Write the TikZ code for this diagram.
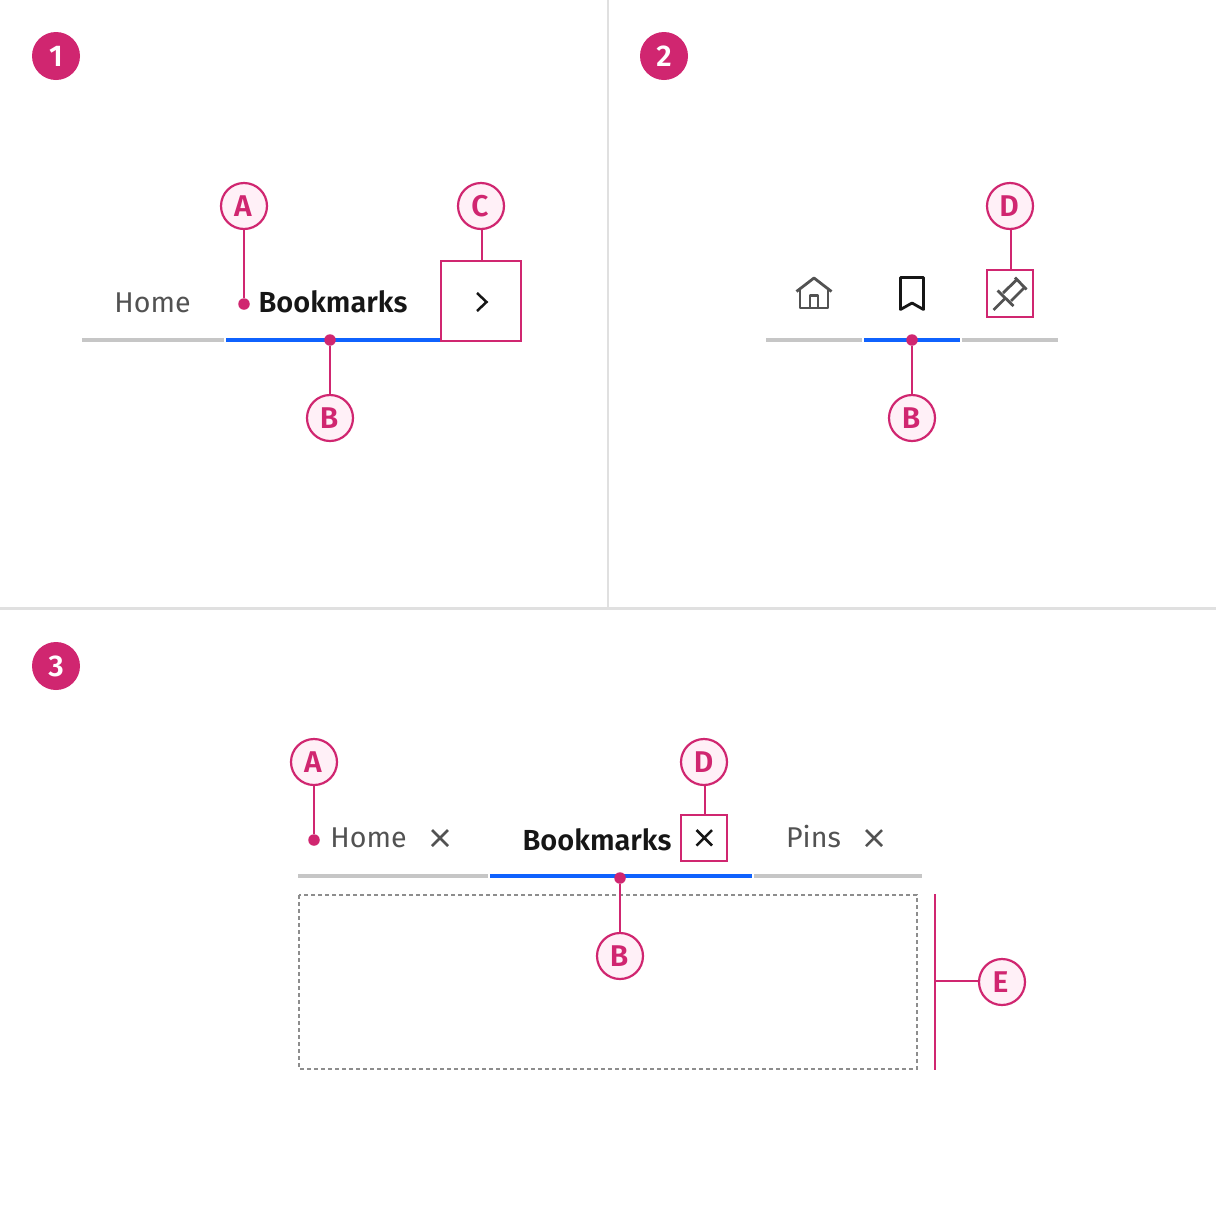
\documentclass[tikz,border=0pt]{standalone}
\usepackage{fontspec}
\setmainfont{Fira Sans}
\newfontfamily\semib{Fira Sans SemiBold}
\newcommand{\ltr}[2][2pt]{\kern-#1 #2}
\newcommand{\dgt}[1]{\raisebox{-0.8pt}{#1}}
\definecolor{mag}{HTML}{D02670}
\definecolor{pale}{HTML}{FFF0F7}
\definecolor{tabgray}{HTML}{C6C6C6}
\definecolor{tabblue}{HTML}{0F62FE}
\definecolor{rulegray}{HTML}{E0E0E0}
\definecolor{txtgray}{HTML}{525252}
\definecolor{txtdark}{HTML}{161616}
\definecolor{dashgray}{HTML}{8D8D8D}
\tikzset{
  x=1pt,y=-1pt,
  numbadge/.style={circle,fill=mag,text=white,minimum size=48pt,inner sep=0pt,font=\fontsize{30}{30}\selectfont\semib},
  letterbadge/.style={circle,draw=mag,line width=2.2pt,fill=pale,text=mag,minimum size=46pt,inner sep=0pt,outer sep=0pt,font=\fontsize{30}{30}\selectfont\semib},
  pinpoint/.style={circle,fill=mag,minimum size=11.5pt,inner sep=0pt},
  callbox/.style={draw=mag,line width=2.2pt,inner sep=0pt,outer sep=0pt},
  conn/.style={draw=mag,line width=2.2pt},
  tabbar/.style={line width=4pt},
  tablabel/.style={anchor=base,inner sep=0pt,text=txtgray,font=\fontsize{28.6}{28.6}\selectfont},
  tabactive/.style={anchor=base,inner sep=0pt,text=txtdark,font=\fontsize{29}{29}\selectfont\semib},
  icon/.style={line width=2.8pt,draw=txtgray,line join=round},
  closex/.style={line width=2.5pt,draw=txtgray},
}
\begin{document}
\begin{tikzpicture}
\useasboundingbox (0,0) rectangle (1216,1216);
\fill[white] (0,0) rectangle (1216,1216);
% dividers
\draw[rulegray,line width=2pt] (608,0) -- (608,608);
\draw[rulegray,line width=3pt] (0,608.5) -- (1216,608.5);
% badges
\node[numbadge] (n1) at (56,56) {\dgt{1}};
\node[numbadge] (n2) at (664,56) {\dgt{2}};
\node[numbadge] (n3) at (56,666) {\dgt{3}};

% ---------- panel 1
\draw[tabbar,tabgray] (82,340) -- (224,340);
\draw[tabbar,tabblue] (226,340) -- (441,340);
\node[tablabel] (h1) at (152.5,312) {Home};
\node[tabactive] (b1) at (333,312) {Bookmarks};
\node[callbox,minimum width=80pt,minimum height=80pt] (c1) at (481,301) {};
\draw[txtdark,line width=2.5pt] (477,293) -- (486.5,302) -- (477,311);
\node[letterbadge] (a1l) at (244,206) {\ltr{A}};
\node[pinpoint] (a1d) at (244,304) {};
\draw[conn] (a1l) -- (a1d);
\node[letterbadge] (c1l) at (481,206) {\ltr{C}};
\draw[conn] ([xshift=.7pt]c1l.south) -- ([xshift=.7pt]c1.north);
\node[letterbadge] (b1l) at (330,418) {\ltr{B}};
\node[pinpoint] (b1d) at (330,340) {};
\draw[conn] (b1l) -- (b1d);

% ---------- panel 2
\draw[tabbar,tabgray] (766,340) -- (862,340);
\draw[tabbar,tabblue] (864,340) -- (960,340);
\draw[tabbar,tabgray] (962,340) -- (1058,340);
% home icon
\draw[icon] (796.5,291.5) -- (814,278) -- (831.5,291.5);
\draw[icon] (800,288.5) -- (800,308) -- (828,308) -- (828,288.5);
\draw[icon] (810,308) -- (810,295.5) -- (818,295.5) -- (818,308);
% bookmark icon
\draw[line width=2.8pt,draw=txtdark,line join=round] (900.5,277.5) -- (923.5,277.5) -- (923.5,309.5) -- (912,303) -- (900.5,309.5) -- cycle;
% pin icon
\node[callbox,minimum width=46pt,minimum height=47pt] (d2) at (1010,293.5) {};
\draw[icon,line join=miter] (993.5,310) -- (1005.5,298);
\draw[icon,line join=miter] (997.5,290.5) -- (1013.5,306);
\draw[icon,line join=miter] (1003,293) -- (1017,279.5);
\draw[icon,line join=miter] (1011,301) -- (1024.5,287.5);
\draw[icon,line join=miter] (1015,277.5) -- (1026.5,289.5);
\node[letterbadge] (d2l) at (1010,206) {\ltr{D}};
\draw[conn] ([xshift=.7pt]d2l.south) -- ([xshift=.7pt]d2.north);
\node[letterbadge] (b2l) at (912,418) {\ltr{B}};
\node[pinpoint] (b2d) at (912,340) {};
\draw[conn] (b2l) -- (b2d);

% ---------- panel 3
\draw[tabbar,tabgray] (298,876) -- (488,876);
\draw[tabbar,tabblue] (490,876) -- (752,876);
\draw[tabbar,tabgray] (754,876) -- (922,876);
\node[tablabel] (h3) at (368.5,847.7) {Home};
\node[tabactive] (b3) at (597,850) {Bookmarks};
\node[tablabel] (p3) at (813.5,847.7) {Pins};
\draw[closex] (432,830) -- (448,846) (448,830) -- (432,846);
\draw[closex,draw=txtdark] (696.5,830) -- (712,845.5) (712,830) -- (696.5,845.5);
\draw[closex] (866,830) -- (882,846) (882,830) -- (866,846);
\node[callbox,minimum width=46pt,minimum height=46pt] (d3) at (704,838) {};
\node[letterbadge] (d3l) at (704,762) {\ltr[1pt]{D}};
\draw[conn] ([xshift=.7pt]d3l.south) -- ([xshift=.7pt]d3.north);
\node[letterbadge] (a3l) at (314,762) {\ltr{A}};
\node[pinpoint] (a3d) at (314,840) {};
\draw[conn] (a3l) -- (a3d);
\draw[dashgray,line width=2pt,dash pattern=on 4pt off 3pt] (299,895) rectangle (917,1069);
\node[letterbadge] (b3l) at (620,956) {\ltr{B}};
\node[pinpoint] (b3d) at (620,878) {};
\draw[conn] (b3l) -- (b3d);
% bracket E
\coordinate (e1) at (935,894);
\coordinate (e2) at (935,1070);
\coordinate (em) at (935,981);
\draw[conn] (e1) -- (e2);
\node[letterbadge] (e3l) at (1002,982) {\ltr[3pt]{E}};
\draw[conn] (e3l.west |- em) -- (em);
\end{tikzpicture}
\end{document}
